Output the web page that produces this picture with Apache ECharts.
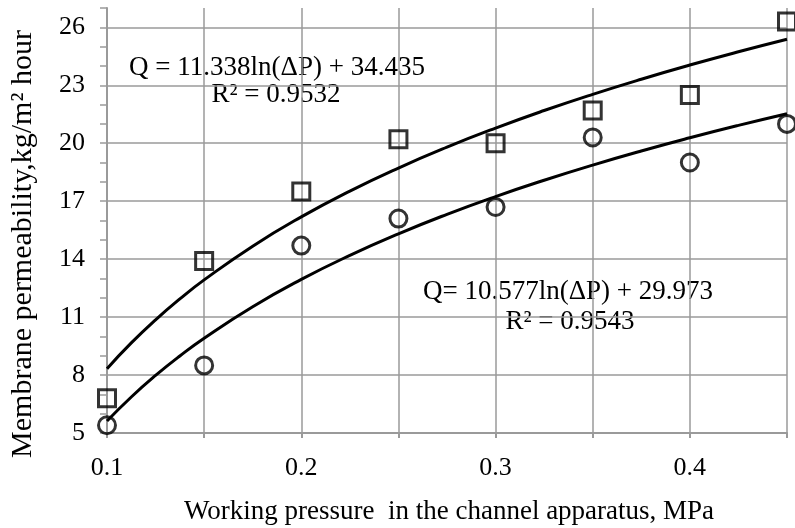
<!DOCTYPE html>
<html>
<head>
<meta charset="utf-8">
<script src="https://cdn.jsdelivr.net/npm/echarts/dist/echarts.min.js"></script>
<style>
html,body{margin:0;padding:0;background:#fff;}
#chart{width:795px;height:528px;}
</style>
</head>
<body>
<div id="chart"></div>
<script>
// ---- data ----
var pressure = [0.1, 0.15, 0.2, 0.25, 0.3, 0.35, 0.4, 0.45];
var squareValues = [6.8, 13.9, 17.5, 20.2, 20.0, 21.7, 22.5, 26.3];
var circleValues = [5.4, 8.5, 14.7, 16.1, 16.7, 20.3, 19.0, 21.0];
var trendX = [0.1, 0.1125, 0.125, 0.1375, 0.15, 0.175, 0.2, 0.225, 0.25, 0.275, 0.3, 0.325, 0.35, 0.375, 0.4, 0.425, 0.45];
var upperTrend = [8.328, 9.664, 10.858, 11.939, 12.925, 14.673, 16.187, 17.523, 18.717, 19.798, 20.784, 21.692, 22.532, 23.314, 24.046, 24.733, 25.381];
var lowerTrend = [5.619, 6.864, 7.979, 8.987, 9.907, 11.538, 12.950, 14.196, 15.310, 16.318, 17.239, 18.085, 18.869, 19.599, 20.281, 20.923, 21.527];
var xTickLabels = ['0.1', '0.2', '0.3', '0.4'];
var yTickLabels = ['5', '8', '11', '14', '17', '20', '23', '26'];
var xTitle = 'Working pressure  in the channel apparatus, MPa';
var yTitle = 'Membrane permeability,kg/m\u00B2 hour';
var eq1 = ['Q = 11.338ln(\u0394P) + 34.435', 'R\u00B2 = 0.9532'];
var eq2 = ['Q= 10.577ln(\u0394P) + 29.973', 'R\u00B2 = 0.9543'];

function pairs(xs, ys) { return xs.map(function (x, i) { return [x, ys[i]]; }); }

var FONT = 'Liberation Serif';
var GRID = '#9a9a9a';
function txt(x, y, s, size, extra) {
  var o = {type: 'text', x: x, y: y, style: {text: s, font: size + 'px "' + FONT + '"', fill: '#000', align: 'center', verticalAlign: 'middle'}};
  if (extra) { for (var k in extra) o[k] = extra[k]; }
  return o;
}

var chart = echarts.init(document.getElementById('chart'), null, {renderer: 'canvas'});
var option = {
  backgroundColor: '#fff',
  animation: false,
  grid: {left: 107, right: 8, top: 8, bottom: 95, containLabel: false, outerBoundsMode: 'none'},
  xAxis: {
    type: 'value', min: 0.1, max: 0.45, interval: 0.05,
    axisLine: {show: true, lineStyle: {color: GRID, width: 2}},
    axisTick: {show: true, length: 5, lineStyle: {color: GRID, width: 2}},
    splitLine: {show: true, lineStyle: {color: GRID, width: 1.5}},
    axisLabel: {
      margin: 22, color: '#000', fontFamily: FONT, fontSize: 26,
      formatter: function (v) {
        var s = (Math.round(v * 100) / 100).toFixed(1);
        return (xTickLabels.indexOf(s) >= 0 && Math.abs(v - parseFloat(s)) < 1e-6) ? s : '';
      }
    }
  },
  yAxis: {
    type: 'value', min: 5, max: 27, interval: 3,
    axisLine: {show: true, lineStyle: {color: GRID, width: 2}},
    axisTick: {show: true, length: 7, lineStyle: {color: GRID, width: 1.5}},
    minorTick: {show: true, splitNumber: 3, length: 7, lineStyle: {color: GRID, width: 1.5}},
    splitLine: {show: true, showMaxLine: false, lineStyle: {color: GRID, width: 1.5}},
    axisLabel: {
      margin: 22, color: '#000', fontFamily: FONT, fontSize: 26, showMaxLabel: false,
      formatter: function (v) {
        var s = String(Math.round(v));
        return yTickLabels.indexOf(s) >= 0 ? s : '';
      }
    }
  },
  series: [
    {type: 'line', data: pairs(trendX, upperTrend), smooth: true, showSymbol: false, symbol: 'none',
     lineStyle: {color: '#000', width: 3}, clip: false, z: 2},
    {type: 'line', data: pairs(trendX, lowerTrend), smooth: true, showSymbol: false, symbol: 'none',
     lineStyle: {color: '#000', width: 3}, clip: false, z: 2},
    {type: 'scatter', data: pairs(pressure, squareValues), symbol: 'rect', symbolSize: 17, clip: false,
     itemStyle: {color: 'rgba(0,0,0,0)', borderColor: '#000', borderWidth: 3}, z: 3},
    {type: 'scatter', data: pairs(pressure, circleValues), symbol: 'circle', symbolSize: 17, clip: false,
     itemStyle: {color: 'rgba(0,0,0,0)', borderColor: '#000', borderWidth: 3}, z: 3}
  ],
  graphic: [
    txt(277, 68, eq1[0], 27),
    txt(276, 95, eq1[1], 27),
    txt(568, 292, eq2[0], 27),
    txt(570, 322, eq2[1], 27),
    txt(449, 512, xTitle, 27),
    txt(23, 244, yTitle, 30, {rotation: Math.PI / 2})
  ]
};
chart.setOption(option);
</script>
</body>
</html>
